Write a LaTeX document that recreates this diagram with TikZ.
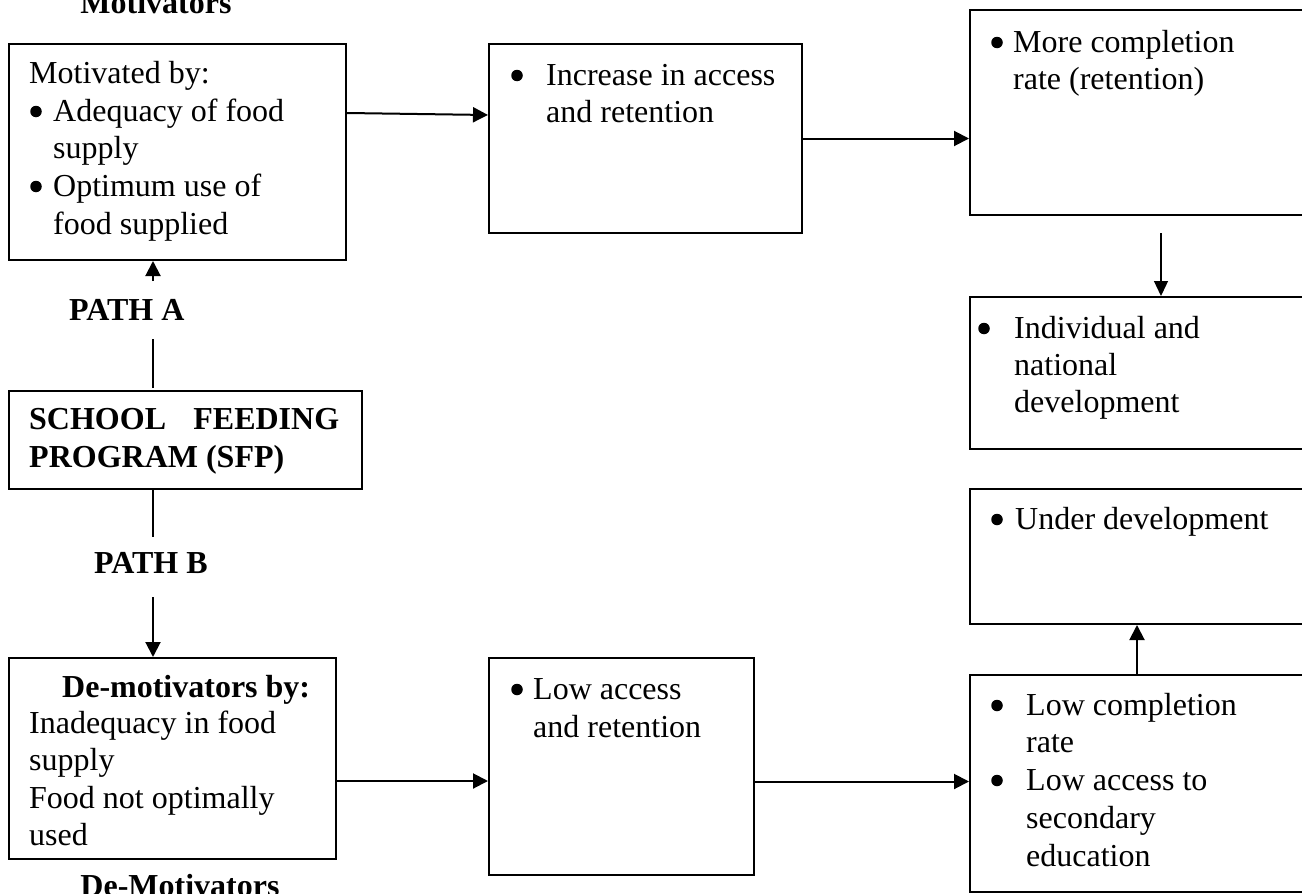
\documentclass[tikz,border=0pt]{standalone}
\usepackage{fontspec}
\setmainfont{Liberation Serif}
\usetikzlibrary{arrows.meta}
\begin{document}
\begin{tikzpicture}[x=1pt,y=-1pt,
  box/.style={draw, line width=2pt, rectangle, inner sep=0pt, anchor=north west},
  txt/.style={anchor=base west, inner sep=0pt, font=\fontsize{32pt}{37.7pt}\selectfont},
  btxt/.style={anchor=base west, inner sep=0pt, font=\fontsize{32pt}{37.7pt}\selectfont\bfseries},
  ctr/.style={anchor=base, inner sep=0pt, font=\fontsize{32pt}{37.7pt}\selectfont\bfseries},
  bul/.style={circle, fill=black, inner sep=0pt, minimum size=11.5pt, yshift=9.5pt},
  conn/.style={line width=2pt},
  arr/.style={line width=2pt, -{Triangle[length=15pt,width=15pt]}},
  arrthin/.style={line width=1.3pt, -{Triangle[length=15pt,width=14pt]}}]
\clip (0,0) rectangle (1302,894);
\fill[white] (0,0) rectangle (1302,894);

% boxes
\node[box, minimum width=337pt, minimum height=216pt] (b1) at (8,43) {};
\node[box, minimum width=313pt, minimum height=189pt] (b2) at (488,43) {};
\node[box, minimum width=345pt, minimum height=205pt] (b3) at (969,9) {};
\node[box, minimum width=345pt, minimum height=152pt] (b4) at (969,296) {};
\node[box, minimum width=345pt, minimum height=135pt] (b5) at (969,488) {};
\node[box, minimum width=345pt, minimum height=217pt] (b6) at (969,674) {};
\node[box, minimum width=265pt, minimum height=217pt] (b7) at (488,657) {};
\node[box, minimum width=327pt, minimum height=201pt] (b8) at (8,657) {};
\node[box, minimum width=353pt, minimum height=98pt] (sfp) at (8,390) {};

% titles
\node[ctr] (tm) at (156,13) {Motivators};
\node[ctr] (td) at (180,896) {De-Motivators};

% box 1
\node[txt] (t1a) at (29,83) {Motivated by:};
\node[bul] (u1a) at (36,121) {};
\node[txt] (t1b) at (53,121) {Adequacy of food};
\node[txt] (t1c) at (53,158) {supply};
\node[bul] (u1b) at (36,196) {};
\node[txt] (t1d) at (53,196) {Optimum use of};
\node[txt] (t1e) at (53,234) {food supplied};

% box 2
\node[bul] (u2) at (517,85) {};
\node[txt] (t2a) at (546,85) {Increase in access};
\node[txt] (t2b) at (546,122) {and retention};

% box 3
\node[bul] (u3) at (997,52) {};
\node[txt] (t3a) at (1013,52) {More completion};
\node[txt] (t3b) at (1013,89) {rate (retention)};

% box 4
\node[bul] (u4) at (984,338) {};
\node[txt] (t4a) at (1014,338) {Individual and};
\node[txt] (t4b) at (1014,375) {national};
\node[txt] (t4c) at (1014,412) {development};

% box 5
\node[bul] (u5) at (997,529) {};
\node[txt] (t5) at (1015,529) {Under development};

% box 6
\node[bul] (u6a) at (997,715) {};
\node[txt] (t6a) at (1026,715) {Low completion};
\node[txt] (t6b) at (1026,752) {rate};
\node[bul] (u6b) at (997,790) {};
\node[txt] (t6c) at (1026,790) {Low access to};
\node[txt] (t6d) at (1026,828) {secondary};
\node[txt] (t6e) at (1026,866) {education};

% box 7
\node[bul] (u7) at (517,699) {};
\node[txt] (t7a) at (533,699) {Low access};
\node[txt] (t7b) at (533,737) {and retention};

% box 8
\node[btxt] (t8a) at (62,697) {De-motivators by:};
\node[txt] (t8b) at (29,733) {Inadequacy in food};
\node[txt] (t8c) at (29,770) {supply};
\node[txt] (t8d) at (29,808) {Food not optimally};
\node[txt] (t8e) at (29,845) {used};

% SFP
\node[btxt] (s1) at (29,429) {\makebox[310pt][l]{SCHOOL\hfill FEEDING}};
\node[btxt] (s2) at (29,467) {PROGRAM (SFP)};

% paths
\node[btxt] (pa) at (69,320) {PATH A};
\node[btxt] (pb) at (94,573) {PATH B};

% connector points
\coordinate (a1) at (153,388);
\coordinate (a2) at (153,339);
\coordinate (a3) at (153,281);
\coordinate (c1) at (153,489);
\coordinate (c2) at (153,537);
\coordinate (c3) at (153,597);

% connectors
\draw[conn] (a1) -- (a2);
\draw[arr] (a3) -- (a3 |- b1.south);
\draw[conn] (c1) -- (c2);
\draw[arr] (c3) -- (c3 |- b8.north);
\draw[arr] ([yshift=-70pt]b1.north east) -- ([yshift=-72pt]b2.north west);
\draw[arr] (b2.east) -- (b2.east -| b3.west);
\draw[arrthin] ([xshift=192pt,yshift=-17pt]b3.south west) -- ([xshift=192pt]b4.north west);
\draw[arr] ([xshift=168pt]b6.north west) -- ([xshift=168pt]b5.south west);
\draw[arr] ([yshift=-15pt]b7.east) -- ([yshift=-15pt]b7.east -| b6.west);
\draw[arr] ([yshift=-22.5pt]b8.east) -- ([yshift=-22.5pt]b8.east -| b7.west);
\end{tikzpicture}
\end{document}
